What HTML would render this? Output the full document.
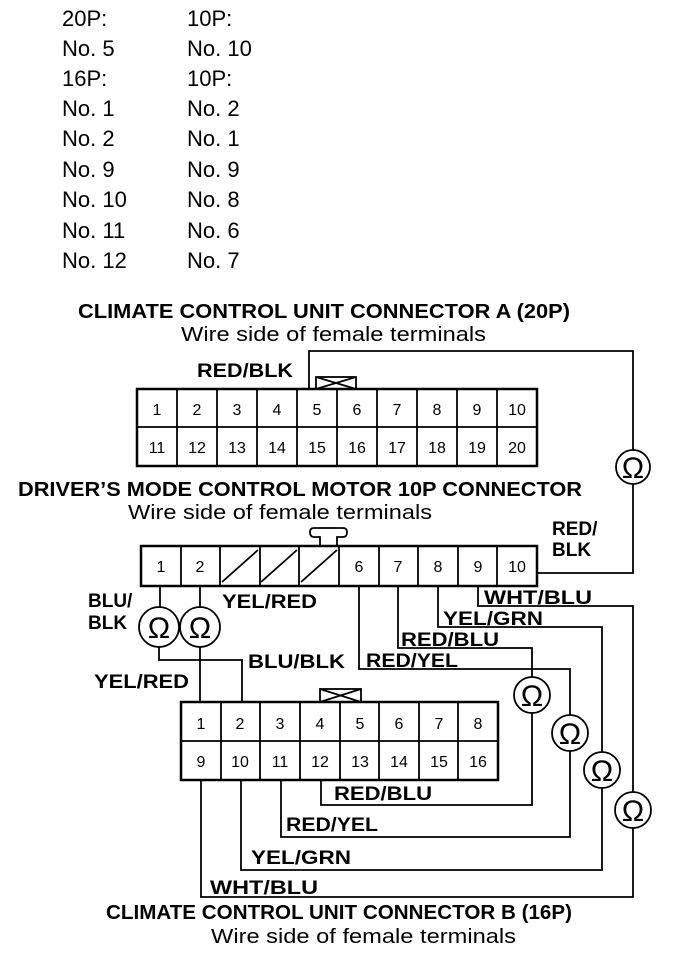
<!DOCTYPE html>
<html><head><meta charset="utf-8"><style>
body{margin:0;background:#fff}
svg{display:block}
text{font-family:"Liberation Sans",Arial,sans-serif;fill:#000}
.l{font-size:22px}
.b{font-size:19px;font-weight:bold}
.t{font-size:20px;font-weight:bold}
.s{font-size:20px}
.n{font-size:16px}
.o{font-size:30px}
</style></head><body>
<svg width="688" height="960" viewBox="0 0 688 960" xmlns="http://www.w3.org/2000/svg">
<g>
<text x="62" y="26" class="l">20P:</text><text x="187" y="26" class="l">10P:</text>
<text x="62" y="56" class="l">No. 5</text><text x="187" y="56" class="l">No. 10</text>
<text x="62" y="86" class="l">16P:</text><text x="187" y="86" class="l">10P:</text>
<text x="62" y="116" class="l">No. 1</text><text x="187" y="116" class="l">No. 2</text>
<text x="62" y="146" class="l">No. 2</text><text x="187" y="146" class="l">No. 1</text>
<text x="62" y="177" class="l">No. 9</text><text x="187" y="177" class="l">No. 9</text>
<text x="62" y="207" class="l">No. 10</text><text x="187" y="207" class="l">No. 8</text>
<text x="62" y="238" class="l">No. 11</text><text x="187" y="238" class="l">No. 6</text>
<text x="62" y="268" class="l">No. 12</text><text x="187" y="268" class="l">No. 7</text>
</g>
<text x="78" y="318" class="t" textLength="492" lengthAdjust="spacingAndGlyphs">CLIMATE CONTROL UNIT CONNECTOR A (20P)</text>
<text x="181" y="341" class="s" textLength="305" lengthAdjust="spacingAndGlyphs">Wire side of female terminals</text>
<text x="197" y="377" class="b" textLength="96" lengthAdjust="spacingAndGlyphs">RED/BLK</text>

<g fill="none" stroke="#000" stroke-width="1.8">
<rect x="137" y="389" width="400" height="77" stroke-width="2.5"/>
<line x1="137" y1="427" x2="537" y2="427"/>
<path d="M177 389V466M217 389V466M257 389V466M297 389V466M337 389V466M377 389V466M417 389V466M457 389V466M497 389V466"/>
<rect x="316" y="377" width="40" height="12"/>
<path d="M316 377L356 389M356 377L316 389"/>
<path d="M309 389V351H633V450M633 484V573H537"/>
<circle cx="633" cy="467" r="17"/>
<rect x="141" y="546" width="396" height="40" stroke-width="2.5"/>
<path d="M181 546V586M220 546V586M260 546V586M299 546V586M339 546V586M379 546V586M418 546V586M458 546V586M497 546V586"/>
<path d="M222 582L258 550M261 582L297 550M301 582L337 550"/>
<path d="M320 546V537H314Q310 537 310 532Q310 528 314 528H343Q347 528 347 532Q347 537 343 537H337V546"/>
<path d="M160 586V607M200 586V607"/>
<circle cx="159" cy="627" r="20"/><circle cx="200" cy="627" r="20"/>
<path d="M159 647V660H242V702M200 647V702"/>
<rect x="181" y="702" width="317" height="78" stroke-width="2.5"/>
<line x1="181" y1="741" x2="498" y2="741"/>
<path d="M221 702V780M260 702V780M300 702V780M340 702V780M379 702V780M419 702V780M458 702V780"/>
<rect x="320" y="689" width="41" height="13"/>
<path d="M320 689L361 702M361 689L320 702"/>
<path d="M359 586V669H570V715M570 751V837H281V780"/>
<path d="M398 586V648H532V677M532 713V805H321V780"/>
<path d="M438 586V627H602V752M602 788V870H241V780"/>
<path d="M478 586V606H633V792M633 828V897H201V780"/>
<circle cx="532" cy="695" r="18"/><circle cx="570" cy="733" r="18"/>
<circle cx="602" cy="770" r="18"/><circle cx="633" cy="810" r="18"/>
</g>
<g class="n" text-anchor="middle">
<text x="157" y="415">1</text><text x="197" y="415">2</text><text x="237" y="415">3</text><text x="277" y="415">4</text><text x="317" y="415">5</text><text x="357" y="415">6</text><text x="397" y="415">7</text><text x="437" y="415">8</text><text x="477" y="415">9</text><text x="517" y="415">10</text>
<text x="157" y="453">11</text><text x="197" y="453">12</text><text x="237" y="453">13</text><text x="277" y="453">14</text><text x="317" y="453">15</text><text x="357" y="453">16</text><text x="397" y="453">17</text><text x="437" y="453">18</text><text x="477" y="453">19</text><text x="517" y="453">20</text>
<text x="161" y="572">1</text><text x="200" y="572">2</text><text x="359" y="572">6</text><text x="398" y="572">7</text><text x="438" y="572">8</text><text x="478" y="572">9</text><text x="517" y="572">10</text>
<text x="201" y="729">1</text><text x="240" y="729">2</text><text x="280" y="729">3</text><text x="320" y="729">4</text><text x="360" y="729">5</text><text x="399" y="729">6</text><text x="439" y="729">7</text><text x="478" y="729">8</text>
<text x="201" y="767">9</text><text x="240" y="767">10</text><text x="280" y="767">11</text><text x="320" y="767">12</text><text x="360" y="767">13</text><text x="399" y="767">14</text><text x="439" y="767">15</text><text x="478" y="767">16</text>
</g>
<g class="o" text-anchor="middle">
<text x="633" y="478">Ω</text><text x="159" y="638">Ω</text><text x="200" y="638">Ω</text>
<text x="532" y="706">Ω</text><text x="570" y="744">Ω</text><text x="602" y="781">Ω</text><text x="633" y="821">Ω</text>
</g>
<text x="18" y="496" class="t" textLength="564" lengthAdjust="spacingAndGlyphs">DRIVER’S MODE CONTROL MOTOR 10P CONNECTOR</text>
<text x="128" y="519" class="s" textLength="304" lengthAdjust="spacingAndGlyphs">Wire side of female terminals</text>
<text x="552" y="535" class="b">RED/</text><text x="552" y="556" class="b">BLK</text>
<text x="88" y="607" class="b">BLU/</text><text x="88" y="629" class="b">BLK</text>
<text x="222" y="608" class="b" textLength="95" lengthAdjust="spacingAndGlyphs">YEL/RED</text>
<text x="94" y="688" class="b" textLength="95" lengthAdjust="spacingAndGlyphs">YEL/RED</text>
<text x="248" y="668" class="b" textLength="97" lengthAdjust="spacingAndGlyphs">BLU/BLK</text>
<text x="484" y="604" class="b" textLength="108" lengthAdjust="spacingAndGlyphs">WHT/BLU</text>
<text x="443" y="625" class="b" textLength="100" lengthAdjust="spacingAndGlyphs">YEL/GRN</text>
<text x="401" y="646" class="b" textLength="98" lengthAdjust="spacingAndGlyphs">RED/BLU</text>
<text x="366" y="667" class="b" textLength="92" lengthAdjust="spacingAndGlyphs">RED/YEL</text>
<text x="334" y="800" class="b" textLength="98" lengthAdjust="spacingAndGlyphs">RED/BLU</text>
<text x="286" y="831" class="b" textLength="92" lengthAdjust="spacingAndGlyphs">RED/YEL</text>
<text x="251" y="864" class="b" textLength="100" lengthAdjust="spacingAndGlyphs">YEL/GRN</text>
<text x="210" y="894" class="b" textLength="108" lengthAdjust="spacingAndGlyphs">WHT/BLU</text>
<text x="106" y="919" class="t" textLength="466" lengthAdjust="spacingAndGlyphs">CLIMATE CONTROL UNIT CONNECTOR B (16P)</text>
<text x="211" y="943" class="s" textLength="305" lengthAdjust="spacingAndGlyphs">Wire side of female terminals</text>
</svg>
</body></html>
